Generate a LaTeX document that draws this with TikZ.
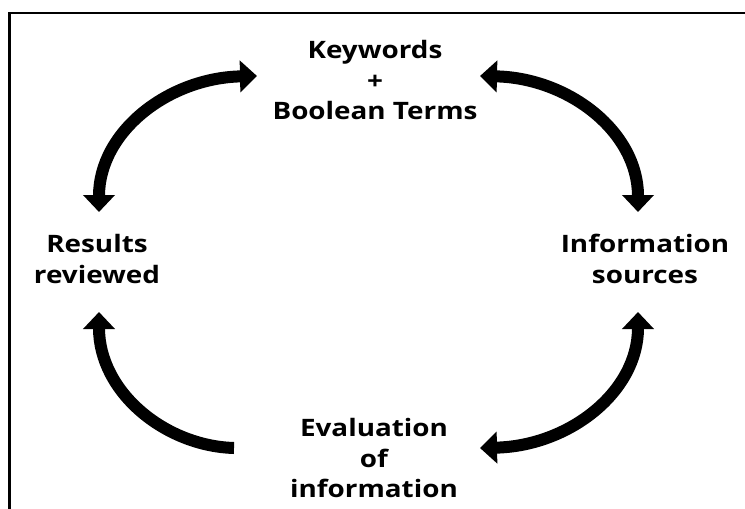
\documentclass[tikz,border=0pt]{standalone}
\usepackage{fontspec}
\newfontfamily\lblfont{Open Sans}[FakeStretch=1.16]
\usetikzlibrary{arrows.meta}
\tikzset{
  lbl/.style={align=center, inner sep=0pt, font=\lblfont\bfseries\fontsize{24}{30.5}\selectfont},
  cyc/.style={line width=12pt, line cap=butt},
  hd/.style={-{Triangle[length=17pt,width=31pt]}},
  dhd/.style={{Triangle[length=17pt,width=31pt]}-{Triangle[length=17pt,width=31pt]}},
  frame/.style={line width=2.6pt, black}
}
\begin{document}
\begin{tikzpicture}[x=1pt,y=-1pt]
\useasboundingbox (0,0) rectangle (745,509);
\fill[white] (0,0) rectangle (745,509);
% frame
\coordinate (fa) at (9.3,509);
\coordinate (fb) at (9.3,13);
\coordinate (fc) at (745,13);
\draw[frame] (fa) -- (fb) -- (fc);
% labels
\node[lbl] (kw) at (375,80) {Keywords\\+\\Boolean Terms};
\node[lbl] (rr) at (97,259) {Results\\reviewed};
\node[lbl] (is) at (645,259) {Information\\sources};
\node[lbl] (ev) at (374,458) {Evaluation\\of\\information};
% arrow end points
\coordinate (a1s) at (99,212);
\coordinate (a1e) at (257,76);
\coordinate (a2s) at (480,76);
\coordinate (a2e) at (638,212);
\coordinate (a3s) at (638,312);
\coordinate (a3e) at (480,448);
\coordinate (a4s) at (234,448);
\coordinate (a4e) at (99,312);
\draw[cyc,dhd] (a1s) .. controls (99,132) and (168,78) .. (a1e);
\draw[cyc,dhd] (a2s) .. controls (569,78) and (638,132) .. (a2e);
\draw[cyc,dhd] (a3s) .. controls (638,392) and (569,446) .. (a3e);
\draw[cyc,hd] (a4s) .. controls (165,446) and (99,392) .. (a4e);
\end{tikzpicture}
\end{document}
